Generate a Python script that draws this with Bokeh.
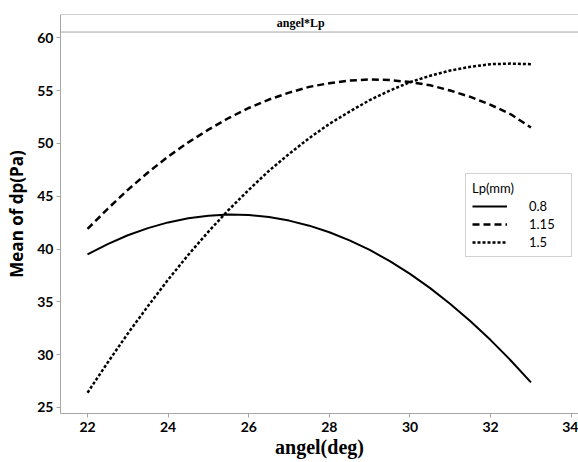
from bokeh.plotting import figure
from bokeh.models import Range1d, FixedTicker, Span, Label, Legend, LegendItem
from bokeh.embed import file_html
from bokeh.resources import INLINE

# Interaction plot data: mean pressure drop vs. fin angle for three louver pitches
angle = [22, 22.5, 23, 23.5, 24, 24.5, 25, 25.5, 26, 26.5, 27, 27.5,
         28, 28.5, 29, 29.5, 30, 30.5, 31, 31.5, 32, 32.5, 33]
dp_lp_08 = [39.5, 40.47, 41.3, 41.98, 42.52, 42.91, 43.16, 43.26, 43.21, 43.03, 42.69, 42.21,
            41.59, 40.82, 39.91, 38.85, 37.65, 36.3, 34.8, 33.16, 31.38, 29.45, 27.38]
dp_lp_115 = [41.9, 43.8, 45.6, 47.25, 48.75, 50.1, 51.3, 52.4, 53.35, 54.15, 54.8, 55.35,
             55.7, 55.95, 56.05, 56.0, 55.8, 55.5, 55.0, 54.4, 53.65, 52.75, 51.5]
dp_lp_15 = [26.4, 29.25, 32.0, 34.6, 37.1, 39.45, 41.65, 43.7, 45.6, 47.4, 49.0, 50.5,
            51.85, 53.0, 54.1, 55.0, 55.8, 56.4, 56.9, 57.25, 57.5, 57.55, 57.5]

lp_labels = ["0.8", "1.15", "1.5"]
x_ticks = [22, 24, 26, 28, 30, 32, 34]
y_ticks = [25, 30, 35, 40, 45, 50, 55, 60]

AXIS_GRAY = "#a6a6a6"

p = figure(
    width=578, height=462,
    x_range=Range1d(21.33, 34.18), y_range=Range1d(24.43, 62.2),
    output_backend="svg", toolbar_location=None,
    min_border_left=60, min_border_right=0, min_border_top=14, min_border_bottom=49,
)
p.outline_line_color = None
p.xgrid.visible = False
p.ygrid.visible = False
p.background_fill_color = "white"
p.border_fill_color = "white"

# axes
for ax in (p.xaxis[0], p.yaxis[0]):
    ax.axis_line_color = AXIS_GRAY
    ax.major_tick_line_color = AXIS_GRAY
    ax.minor_tick_line_color = None
    ax.major_tick_out = 4
    ax.major_tick_in = 0
    ax.major_label_text_font = "Lato"
    ax.major_label_text_font_style = "bold"
    ax.major_label_text_font_size = "14px"
    ax.major_label_text_color = "black"
    ax.axis_label_text_color = "black"

p.xaxis.ticker = FixedTicker(ticks=x_ticks)
p.yaxis.ticker = FixedTicker(ticks=y_ticks)
p.xaxis.major_label_standoff = 4
p.yaxis.major_label_standoff = 3

p.xaxis.axis_label = "angel(deg)"
p.xaxis.axis_label_text_font = "Liberation Serif"
p.xaxis.axis_label_text_font_style = "bold"
p.xaxis.axis_label_text_font_size = "20px"
p.xaxis.axis_label_standoff = 1

p.yaxis.axis_label = "Mean of dp(Pa)"
p.yaxis.axis_label_text_font = "Open Sans"
p.yaxis.axis_label_text_font_style = "bold"
p.yaxis.axis_label_text_font_size = "17px"
p.yaxis.axis_label_standoff = 6

# panel header strip
p.add_layout(Span(location=62.2, dimension="width", line_color=AXIS_GRAY, line_width=1))
p.add_layout(Span(location=60.54, dimension="width", line_color=AXIS_GRAY, line_width=1))
p.add_layout(Label(x=27.29, y=61.37, text="angel*Lp", text_font="Liberation Serif",
                   text_font_style="bold", text_font_size="12px",
                   text_align="center", text_baseline="middle", text_color="black"))

# series
r08 = p.line(angle, dp_lp_08, line_color="black", line_width=2)
r115 = p.line(angle, dp_lp_115, line_color="black", line_width=2.5, line_dash="7 4")
r15 = p.line(angle, dp_lp_15, line_color="black", line_width=2.5, line_dash="3 2")

legend = Legend(
    items=[LegendItem(label=lp_labels[0], renderers=[r08]),
           LegendItem(label=lp_labels[1], renderers=[r115]),
           LegendItem(label=lp_labels[2], renderers=[r15])],
    title="Lp(mm)",
    location=(405, 156),
    border_line_color=AXIS_GRAY, border_line_width=1,
    background_fill_color="white", background_fill_alpha=1,
    padding=6, spacing=2, margin=0,
    glyph_width=35, glyph_height=16, label_height=16,
    label_standoff=22, label_width=36,
    label_text_font="Lato", label_text_font_size="13px", label_text_color="black",
    title_text_font="Lato", title_text_font_size="13px", title_text_font_style="normal",
    title_text_color="black", title_standoff=2,
)
p.add_layout(legend, "center")

open("out.html", "w").write(file_html(p, INLINE))
